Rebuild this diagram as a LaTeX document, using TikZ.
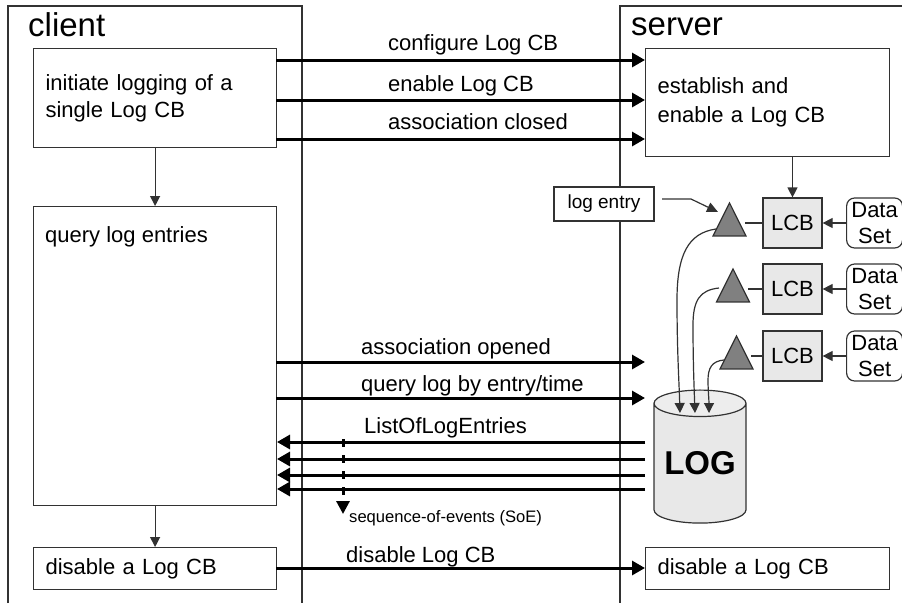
\documentclass[tikz,border=0pt]{standalone}
\usepackage{fontspec}
\setmainfont{Liberation Sans}
\usetikzlibrary{shapes.geometric, arrows.meta, positioning}
\definecolor{linegray}{RGB}{50,50,50}
\definecolor{lcbgray}{RGB}{232,232,232}
\definecolor{trigray}{RGB}{128,128,128}
\tikzset{
    bigarrow/.style={line width=3pt, -{Triangle[length=13pt,width=14pt]}},
    thinarrow/.style={line width=1.2pt, linegray, -{Triangle[length=10pt,width=10pt]}},
    procbox/.style={draw=linegray, line width=1.2pt, fill=white, anchor=north west, align=left, inner xsep=12pt, inner ysep=0pt},
    lcbbox/.style={draw=linegray, line width=1.2pt, fill=lcbgray, minimum width=59pt, minimum height=50pt, inner sep=0pt},
    databox/.style={draw=linegray, line width=1.2pt, rounded corners=8pt, minimum width=56pt, minimum height=50pt, inner sep=0pt, align=center},
    trinode/.style={draw=linegray, line width=1.2pt, fill=trigray, isosceles triangle, isosceles triangle apex angle=53, shape border rotate=90, inner sep=0pt, minimum height=33pt},
    msg/.style={anchor=base west, inner sep=0pt},
    title/.style={anchor=base west, inner sep=0pt, font=\fontsize{33}{36}\selectfont}
}
\begin{document}
\begin{tikzpicture}[x=1pt, y=-1pt, font=\fontsize{22}{27}\selectfont]
    \useasboundingbox (0,0) rectangle (902,603);
    % frames
    \draw[line width=1.2pt, linegray] (8,603) -- (8,6) -- (302,6) -- (302,603);
    \draw[line width=1.2pt, linegray] (902,6) -- (620,6) -- (620,603);
    \node[title] (clienttitle) at (28,36) {client};
    \node[title] (servertitle) at (631,35) {server};

    % client side
    \node[procbox, minimum width=243pt, minimum height=99pt, text width=219pt] (initbox) at (33,48) {initiate logging of a\\single Log CB};
    \node[procbox, minimum width=243pt, minimum height=299pt] (querybox) at (33,206) {};
    \node[msg] (querytext) at (45,242) {query log entries};
    \node[procbox, minimum width=243pt, minimum height=42pt, text width=219pt] (clientoff) at (33,547) {disable a Log CB};
    \draw[thinarrow] (initbox) -- (querybox);
    \draw[thinarrow] (querybox) -- (clientoff);

    % server side
    \node[procbox, minimum width=244pt, minimum height=108pt, text width=220pt, font=\fontsize{22}{29}\selectfont] (setupbox) at (645,48) {establish and\\enable a Log CB};
    \node[procbox, minimum width=244pt, minimum height=42pt, text width=220pt] (serveroff) at (645,547) {disable a Log CB};
    \node[draw=linegray, line width=1.2pt, fill=white, minimum width=100pt, minimum height=34pt, inner sep=0pt, font=\fontsize{19}{22}\selectfont] (logentry) at (604,204) {log entry};

    % LCB rows
    \foreach \i/\yy/\tx in {1/223/729.5, 2/289/733, 3/356/736.5} {
        \node[lcbbox] (lcb\i) at (792.5,\yy) {LCB};
        \node[databox, anchor=west, font=\fontsize{22}{26}\selectfont] (data\i) at (846,\yy) {Data\\Set};
        \node[trinode, anchor=south] (tri\i) at (\tx,{\yy+13.5}) {};
        \draw[thinarrow] (data\i) -- (lcb\i);
    }
    \draw[thinarrow] (setupbox.south -| lcb1) -- (lcb1);
    \draw[line width=1.2pt, linegray] (lcb1.west) -- ([xshift=-17pt]lcb1.west);
    \draw[line width=1.2pt, linegray] (lcb2.west) -- ([xshift=-14pt]lcb2.west);
    \draw[line width=1.2pt, linegray] (lcb3.west) -- ([xshift=-11pt]lcb3.west);

    \coordinate (entrystart) at (662,199);
    \coordinate (entrytip) at (718,212);
    \draw[line width=1.2pt, linegray, -{Triangle[length=11pt,width=10pt]}] (entrystart) -- (691,199) -- (entrytip);

    % log store
    \node[draw=linegray, line width=1.2pt, cylinder, shape border rotate=90, aspect=0.37, minimum width=92pt, minimum height=133pt, inner sep=0pt,
        cylinder uses custom fill, cylinder body fill=lcbgray, cylinder end fill=lcbgray!80!white, font=\fontsize{33}{36}\selectfont\bfseries] (logdb) at (700,463.5) {LOG};

    \coordinate (tip1) at (680,413);
    \coordinate (tip2) at (695,413);
    \coordinate (tip3) at (709,413);
    \draw[thinarrow] (716,229) .. controls (688,233) and (677,255) .. (677,300) .. controls (677,350) and (679,380) .. (tip1);
    \draw[thinarrow] (719,288) .. controls (700,290) and (693,300) .. (693,325) .. controls (693,360) and (694,385) .. (tip2);
    \draw[thinarrow] (724,360) .. controls (712,361) and (708,368) .. (708,380) .. controls (708,390) and (709,400) .. (tip3);

    % messages client -> server
    \foreach \i/\yy/\lx/\ly/\txt in {1/60/388/50/configure Log CB, 2/100/388/91/enable Log CB, 3/139/388/129/association closed, 4/362/361/354/association opened, 5/398/361/391/{query log by entry/time}, 6/568/346/562/disable Log CB} {
        \coordinate (from\i) at (276,\yy);
        \coordinate (to\i) at (645,\yy);
        \draw[bigarrow] (from\i) -- (to\i);
        \node[msg] (msg\i) at (\lx,\ly) {\txt};
    }
    % messages server -> client
    \foreach \i/\yy in {1/442, 2/459, 3/475, 4/489} {
        \coordinate (back\i) at (645,\yy);
        \coordinate (end\i) at (277,\yy);
        \draw[bigarrow] (back\i) -- (end\i);
    }
    \node[msg] (listmsg) at (364,433) {ListOfLogEntries};

    % event order
    \coordinate (soetop) at (343,439);
    \coordinate (soetip) at (343,514);
    \draw[line width=3pt, dash pattern=on 8pt off 8pt, -{Triangle[length=13pt,width=13pt]}] (soetop) -- (soetip);
    \node[msg, font=\fontsize{16.6}{20}\selectfont] (soetext) at (349,522) {sequence-of-events (SoE)};
\end{tikzpicture}
\end{document}
